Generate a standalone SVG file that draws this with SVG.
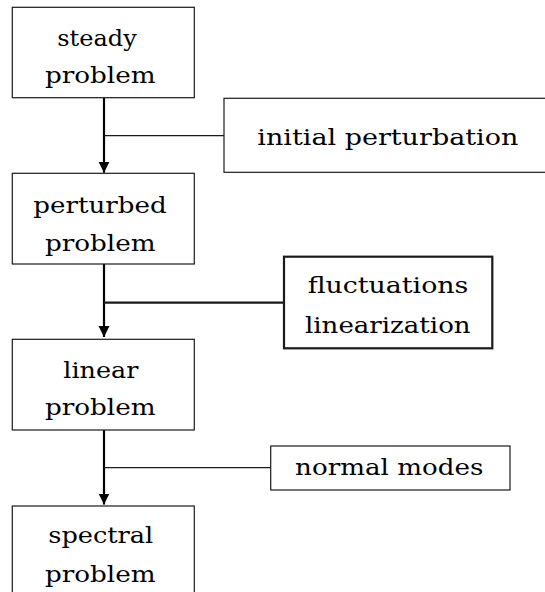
<svg xmlns="http://www.w3.org/2000/svg" width="545" height="592" viewBox="0 0 545 592">
<style>
.box{fill:#fff;stroke:#1a1a1a;stroke-width:1.2}
.bold{stroke-width:2.2}
text{font-family:"DejaVu Serif","Liberation Serif",serif;font-size:23px;fill:#000;text-anchor:middle}
.link{stroke:#1a1a1a;stroke-width:1.2;fill:none}
.arrow{stroke:#000;stroke-width:2.2;fill:none}
</style>
<defs>
<marker id="ah" markerUnits="userSpaceOnUse" markerWidth="12" markerHeight="12" viewBox="0 0 12 12" refX="11" refY="6" orient="auto">
<path d="M0,0.5 L11,6 L0,11.5 Z" fill="#000"/>
</marker>
</defs>
<g id="connectors">
<line class="arrow" x1="104" y1="97.7" x2="104" y2="172.7" marker-end="url(#ah)"/>
<line class="arrow" x1="104" y1="264" x2="104" y2="337" marker-end="url(#ah)"/>
<line class="arrow" x1="104" y1="430" x2="104" y2="504.5" marker-end="url(#ah)"/>
<line class="link" x1="104" y1="135.7" x2="224" y2="135.7"/>
<line class="link" x1="104" y1="302.7" x2="284" y2="302.7" style="stroke-width:2.2"/>
<line class="link" x1="104" y1="467.7" x2="270.7" y2="467.7"/>
</g>
<g id="steady">
<rect class="box" x="12.3" y="7.3" width="182" height="90.4"/>
<text x="97" y="46" textLength="79.4" lengthAdjust="spacingAndGlyphs">steady</text>
<text x="100.3" y="83" textLength="110.7" lengthAdjust="spacingAndGlyphs">problem</text>
</g>
<g id="initial">
<rect class="box" x="224" y="98.3" width="330" height="74"/>
<text x="387.8" y="145" textLength="261" lengthAdjust="spacingAndGlyphs">initial perturbation</text>
</g>
<g id="perturbed">
<rect class="box" x="12.3" y="173.3" width="182" height="90.7"/>
<text x="100" y="213.3" textLength="133.3" lengthAdjust="spacingAndGlyphs">perturbed</text>
<text x="100.3" y="250.7" textLength="110.7" lengthAdjust="spacingAndGlyphs">problem</text>
</g>
<g id="fluct">
<rect class="box bold" x="284" y="256.7" width="208.3" height="91.6"/>
<text x="388" y="292.7" textLength="160.7" lengthAdjust="spacingAndGlyphs">fluctuations</text>
<text x="387.8" y="332.7" textLength="165.7" lengthAdjust="spacingAndGlyphs">linearization</text>
</g>
<g id="linear">
<rect class="box" x="12.3" y="339.3" width="182" height="90.7"/>
<text x="100.8" y="378.3" textLength="75" lengthAdjust="spacingAndGlyphs">linear</text>
<text x="100.3" y="415" textLength="110.7" lengthAdjust="spacingAndGlyphs">problem</text>
</g>
<g id="normal">
<rect class="box" x="270.7" y="446" width="239.3" height="44"/>
<text x="389.2" y="475" textLength="188.3" lengthAdjust="spacingAndGlyphs">normal modes</text>
</g>
<g id="spectral">
<rect class="box" x="12.3" y="506" width="182" height="100"/>
<text x="100.8" y="543.3" textLength="105" lengthAdjust="spacingAndGlyphs">spectral</text>
<text x="100.3" y="581.7" textLength="110.7" lengthAdjust="spacingAndGlyphs">problem</text>
</g>
</svg>
